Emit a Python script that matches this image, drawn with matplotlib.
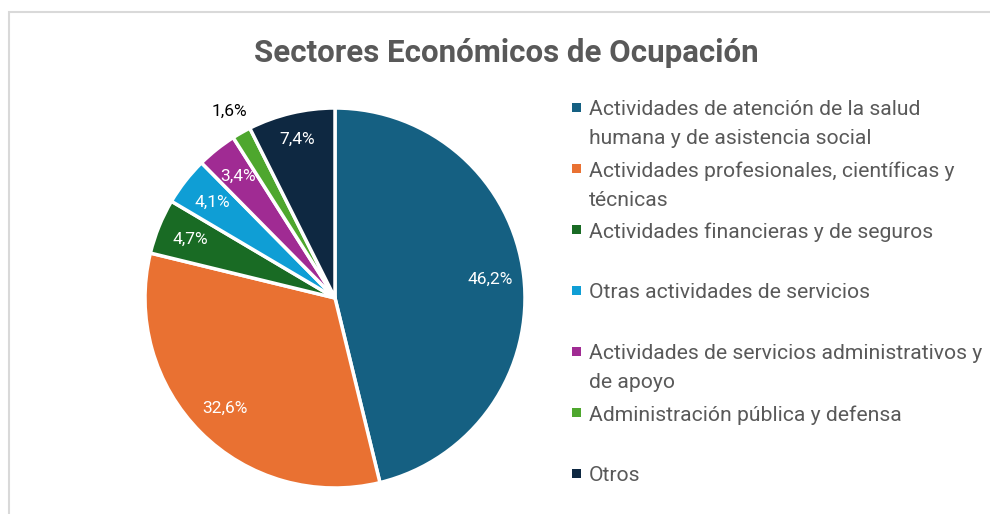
import matplotlib
matplotlib.use("Agg")
import matplotlib.pyplot as plt
from matplotlib.patches import Rectangle

sectores = [
    "Actividades de atención de la salud\nhumana y de asistencia social",
    "Actividades profesionales, científicas y\ntécnicas",
    "Actividades financieras y de seguros",
    "Otras actividades de servicios",
    "Actividades de servicios administrativos y\nde apoyo",
    "Administración pública y defensa",
    "Otros",
]
porcentajes = [46.2, 32.6, 4.7, 4.1, 3.4, 1.6, 7.4]
colores = ["#156082", "#E97132", "#196B24", "#0F9ED5", "#A02B93", "#4EA72E", "#0E2841"]
etiquetas = ["46,2%", "32,6%", "4,7%", "4,1%", "3,4%", "1,6%", "7,4%"]

plt.rcParams['font.family'] = ['Roboto', 'DejaVu Sans']

fig = plt.figure(figsize=(9.9, 5.14), dpi=100)

# chart area border (cut off at right and bottom)
fig.patches.append(Rectangle((9 / 990, -0.1), 1.2, (514 - 12) / 514 + 0.1,
                             transform=fig.transFigure, fill=False,
                             edgecolor="#d9d9d9", linewidth=1.5))

fig.text(506 / 990, 1 - 53 / 514, "Sectores Económicos de Ocupación",
         ha="center", va="center", fontsize=22.5, fontweight="bold", color="#595959")

ax = fig.add_axes([145 / 990, 26 / 514, 380 / 990, 380 / 514])
wedges, textos = ax.pie(porcentajes, colors=colores, startangle=90, counterclock=False,
                        labels=etiquetas, labeldistance=0.82,
                        wedgeprops=dict(edgecolor="white", linewidth=2.5),
                        textprops=dict(color="white", fontsize=12.5))
for t in textos:
    t.set_ha("center")
    t.set_va("center")
# small slice label goes outside
textos[5].set_color("black")
x, y = textos[5].get_position()
textos[5].set_position((x * 1.13 / 0.82, y * 1.13 / 0.82))
x, y = textos[6].get_position()
textos[6].set_position((x * 0.86 / 0.82, y * 0.86 / 0.82))
ax.set_xlim(-1, 1)
ax.set_ylim(-1, 1)
ax.set_aspect("equal")
ax.axis("off")

# legend, one slot per sector like the original
top = 108
paso = 61
for i, (nombre, c) in enumerate(zip(sectores, colores)):
    yy = top + i * paso
    fig.patches.append(Rectangle((572 / 990, 1 - (yy + 4) / 514), 9 / 990, 9 / 514,
                                 transform=fig.transFigure, facecolor=c, edgecolor="none"))
    fig.text(589 / 990, 1 - (yy - 8) / 514, nombre, ha="left", va="top",
             fontsize=15.2, color="#595959", linespacing=1.67)

fig.savefig("out.png", dpi=100)
